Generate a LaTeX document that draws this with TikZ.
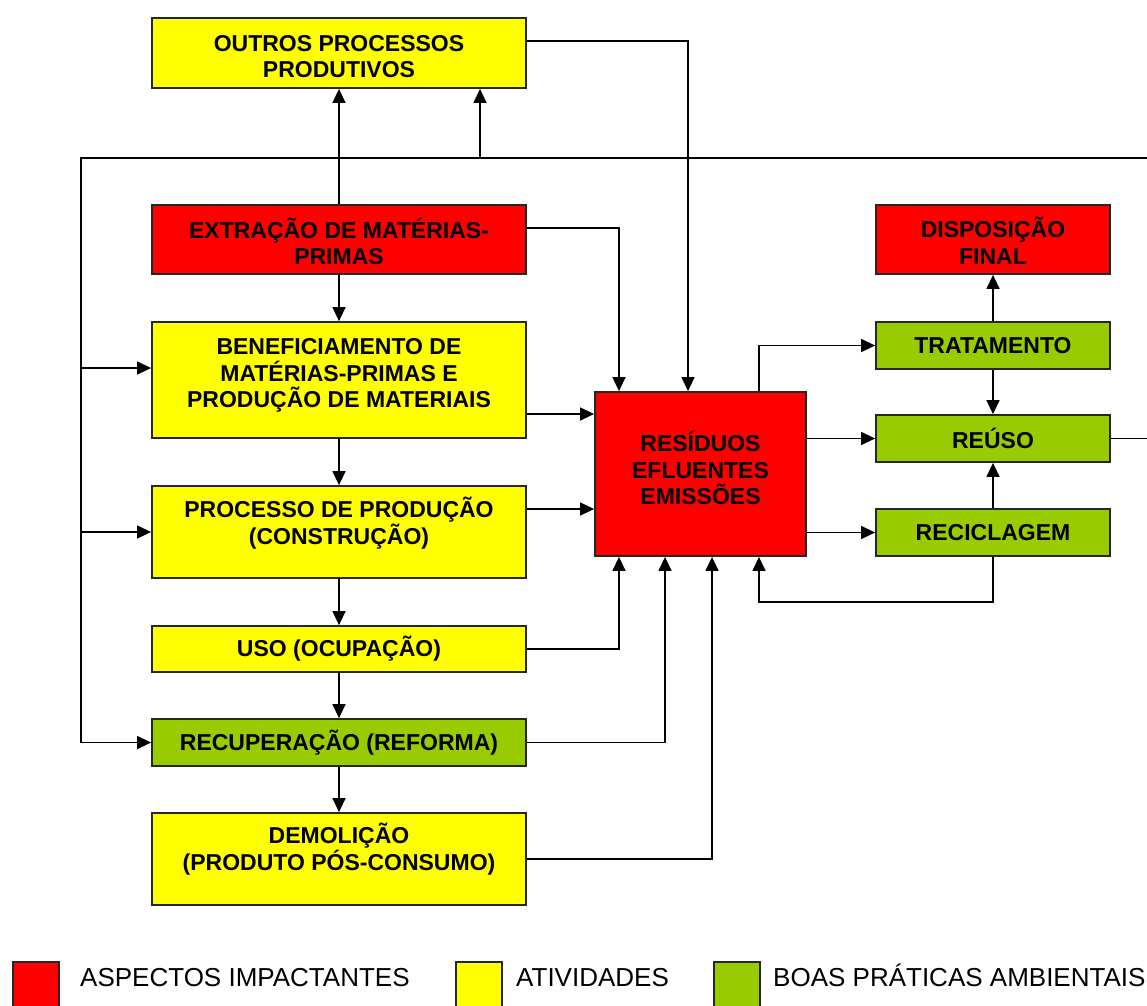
\documentclass[tikz,border=0pt]{standalone}
\usepackage{fontspec}
\setmainfont{Liberation Sans}
\usetikzlibrary{arrows.meta}
\definecolor{cred}{HTML}{FF0000}
\definecolor{cyel}{HTML}{FFFF00}
\definecolor{cgrn}{HTML}{99CC00}
\begin{document}
\begin{tikzpicture}[x=1pt,y=-1pt,
  box/.style={draw=black!85,line width=1.8pt,inner sep=0pt},
  txt/.style={align=center,inner sep=0pt,font=\bfseries\fontsize{23}{26.5}\selectfont},
  rbox/.style={box,fill=cred},
  ybox/.style={box,fill=cyel},
  gbox/.style={box,fill=cgrn},
  lnk/.style={line width=1.4pt,black},
  arr/.style={lnk,-{Triangle[length=14pt,width=13pt]}},
  leg/.style={draw=black!85,line width=1.5pt,minimum width=46pt,minimum height=48pt,inner sep=0pt},
  legtxt/.style={anchor=base west,inner sep=0pt,font=\fontsize{26}{28}\selectfont}]
\useasboundingbox[fill=white] (0,0) rectangle (1147,1005);
% left column boxes
\node[ybox,minimum width=374pt,minimum height=70pt,
  label={[txt,yshift=-3.5pt]center:OUTROS PROCESSOS\\PRODUTIVOS}] (out) at (339,53) {};
\node[rbox,minimum width=374pt,minimum height=69pt,
  label={[txt,yshift=-2pt]center:EXTRAÇÃO DE MATÉRIAS-\\PRIMAS}] (ext) at (339,239.5) {};
\node[ybox,minimum width=374pt,minimum height=116pt,
  label={[txt,yshift=4.5pt]center:BENEFICIAMENTO DE\\MATÉRIAS-PRIMAS E\\PRODUÇÃO DE MATERIAIS}] (ben) at (339,380) {};
\node[ybox,minimum width=374pt,minimum height=92pt,
  label={[txt,yshift=9pt]center:PROCESSO DE PRODUÇÃO\\(CONSTRUÇÃO)}] (pro) at (339,532) {};
\node[ybox,minimum width=374pt,minimum height=46pt,
  label={[txt]center:USO (OCUPAÇÃO)}] (uso) at (339,649) {};
\node[gbox,minimum width=374pt,minimum height=47pt,
  label={[txt]center:RECUPERAÇÃO (REFORMA)}] (rec) at (339,742.5) {};
\node[ybox,minimum width=374pt,minimum height=92pt,
  label={[txt,yshift=10pt]center:DEMOLIÇÃO\\(PRODUTO PÓS-CONSUMO)}] (dem) at (339,859) {};
% centre
\node[rbox,minimum width=211pt,minimum height=164pt,
  label={[txt,yshift=6pt]center:RESÍDUOS\\EFLUENTES\\EMISSÕES}] (res) at (700.5,474) {};
% right column
\node[rbox,minimum width=234pt,minimum height=69pt,
  label={[txt,yshift=-1.5pt]center:DISPOSIÇÃO\\FINAL}] (dis) at (993,239.5) {};
\node[gbox,minimum width=234pt,minimum height=47pt,
  label={[txt]center:TRATAMENTO}] (tra) at (993,345.5) {};
\node[gbox,minimum width=234pt,minimum height=47pt,
  label={[txt]center:REÚSO}] (reu) at (993,438.5) {};
\node[gbox,minimum width=234pt,minimum height=47pt,
  label={[txt]center:RECICLAGEM}] (rcl) at (993,532.5) {};
% feedback loop coordinates
\coordinate (tl) at (81,158);
\coordinate (tr) at (1147,158);
\coordinate (tm) at (480,158);
\coordinate (re) at (1147,438.5);
% vertical chain
\draw[arr] (ext.north) -- (out.south);
\draw[arr] (ext.south) -- (ben.north);
\draw[arr] (ben.south) -- (pro.north);
\draw[arr] (pro.south) -- (uso.north);
\draw[arr] (uso.south) -- (rec.north);
\draw[arr] (rec.south) -- (dem.north);
% top loop
\draw[lnk] (tr) -- (tl) -- (tl |- rec.west);
\draw[arr] (tm) -- (tm |- out.south);
\draw[arr] (tl |- 0,368) -- (ben.west |- 0,368);
\draw[arr] (tl |- pro.west) -- (pro.west);
\draw[arr] (tl |- rec.west) -- (rec.west);
\draw[lnk] (reu.east) -- (re);
% into residues
\draw[arr] (out.east |- 0,41) -| (688,0 |- res.north);
\draw[arr] (ext.east |- 0,228) -| (619,0 |- res.north);
\draw[arr] (ben.east |- 0,414) -- (res.west |- 0,414);
\draw[arr] (pro.east |- 0,509) -- (res.west |- 0,509);
\draw[arr] (uso.east) -| (619,0 |- res.south);
\draw[arr] (rec.east) -| (665,0 |- res.south);
\draw[arr] (dem.east) -| (712,0 |- res.south);
\draw[arr] (rcl.south) |- (759,602) -- (759,0 |- res.south);
% out of residues
\draw[arr] (759,0 |- res.north) |- (tra.west);
\draw[arr] (res.east |- reu.west) -- (reu.west);
\draw[arr] (res.east |- rcl.west) -- (rcl.west);
\draw[arr] (tra.north) -- (dis.south);
\draw[arr] (tra.south) -- (reu.north);
\draw[arr] (rcl.north) -- (reu.south);
% legend
\node[leg,fill=cred,anchor=north west] (l1) at (12,961) {};
\node[legtxt] (t1) at (80,986) {ASPECTOS IMPACTANTES};
\node[leg,fill=cyel,anchor=north west] (l2) at (455,961) {};
\node[legtxt] (t2) at (516,986) {ATIVIDADES};
\node[leg,fill=cgrn,anchor=north west] (l3) at (713,961) {};
\node[legtxt] (t3) at (773,986) {BOAS PRÁTICAS AMBIENTAIS};
\end{tikzpicture}
\end{document}
